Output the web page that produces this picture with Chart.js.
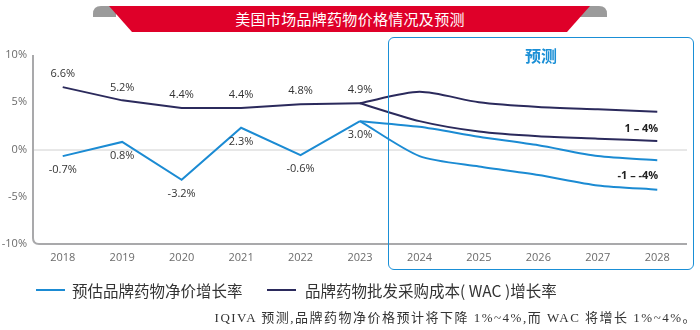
<!DOCTYPE html>
<html><head><meta charset="utf-8">
<script src="https://cdn.jsdelivr.net/npm/chart.js@4/dist/chart.umd.min.js"></script>
<style>
html,body{margin:0;padding:0;background:#fff;}
#wrap{position:relative;width:700px;height:330px;overflow:hidden;font-family:"Noto Sans CJK SC","Noto Sans",sans-serif;}
#c{position:absolute;left:0;top:0;}
.abs{position:absolute;white-space:nowrap;}
#title{left:0;width:700px;top:8px;text-align:center;color:#fff;font-size:15px;line-height:21px;letter-spacing:0.3px;}
#box{left:388px;top:37px;width:306px;height:233px;border:1.5px solid #1a8fd6;border-radius:6px;box-sizing:border-box;}
#fc{left:388px;width:306px;top:43px;text-align:center;color:#1a8fd6;font-size:16px;font-weight:bold;line-height:24px;}
.leg{top:280px;font-size:15.5px;color:#333;line-height:20px;}
.sw{position:absolute;height:2px;top:289px;}
#foot{right:3px;top:309px;font-family:"Liberation Serif","Noto Sans CJK SC",serif;font-size:13px;color:#333;letter-spacing:1.5px;line-height:18px;}
</style></head>
<body><div id="wrap">
<svg class="abs" style="left:0;top:0" width="700" height="40">
<path d="M101,6 L116,6 L116,17 L93,17 L93,14 Q93,6 101,6 Z" fill="#9b9b9b"/>
<path d="M599,6 L580,6 L580,17 L607,17 L607,14 Q607,6 599,6 Z" fill="#9b9b9b"/>
<polygon points="109,6 590,6 567,32 132,32" fill="#df0029"/>
</svg>
<div id="title" class="abs">美国市场品牌药物价格情况及预测</div>
<canvas id="c" width="700" height="330"></canvas>
<div id="box" class="abs"></div>
<div id="fc" class="abs">预测</div>
<div class="sw" style="left:36px;width:29px;background:#1b8bd3"></div>
<div class="abs leg" style="left:72px">预估品牌药物净价增长率</div>
<div class="sw" style="left:267px;width:29px;background:#2b2a5c"></div>
<div class="abs leg" style="left:305px">品牌药物批发采购成本( WAC )增长率</div>
<div id="foot" class="abs">IQIVA 预测,品牌药物净价格预计将下降 1%~4%,而 WAC 将增长 1%~4%。</div>
</div>
<script>
const years = ["2018","2019","2020","2021","2022","2023","2024","2025","2026","2027","2028"];
const yTicks = [-10,-5,0,5,10];
const wacHist   = [6.6,5.2,4.4,4.4,4.8,4.9,null,null,null,null,null];
const wacHigh   = [null,null,null,null,null,4.9,6.1,5.0,4.5,4.25,4.0];
const wacLow    = [null,null,null,null,null,4.9,3.0,1.9,1.4,1.15,0.9];
const netHist   = [-0.7,0.8,-3.2,2.3,-0.6,3.0,null,null,null,null,null];
const netHigh   = [null,null,null,null,null,3.0,2.4,1.35,0.45,-0.7,-1.15];
const netLow    = [null,null,null,null,null,3.0,-0.7,-1.8,-2.7,-3.8,-4.25];
const rangeLabels = [{text:"1 – 4%", value:2.2},{text:"-1 – -4%", value:-2.8}];

const NAVY="#2b2a5c", BLUE="#1b8bd3";
function ds(data,color,tension){return {data,borderColor:color,backgroundColor:color,borderWidth:2,pointRadius:0,tension:tension,spanGaps:false,fill:false};}

const axisPlugin={id:'axisPlugin',
 beforeDatasetsDraw(chart){
  const {ctx,chartArea:a}=chart; const y0=chart.scales.y.getPixelForValue(0);
  ctx.save();
  ctx.strokeStyle="#d0d0d0";ctx.lineWidth=1;
  ctx.beginPath();ctx.moveTo(a.left,y0+0.5);ctx.lineTo(a.right,y0+0.5);ctx.stroke();
  ctx.strokeStyle="#a9a9ab";ctx.lineWidth=2;
  const r=6;
  ctx.beginPath();ctx.moveTo(a.left,a.top);ctx.lineTo(a.left,a.bottom-r);
  ctx.quadraticCurveTo(a.left,a.bottom,a.left+r,a.bottom);ctx.lineTo(a.right,a.bottom);ctx.stroke();
  ctx.restore();
 },
 afterDatasetsDraw(chart){
  const {ctx}=chart; const xs=chart.scales.x, ys=chart.scales.y;
  ctx.save();
  ctx.font="11px 'Open Sans'";ctx.fillStyle="#333";ctx.textAlign="center";ctx.textBaseline="middle";
  wacHist.forEach((v,i)=>{ if(v==null)return; ctx.fillText(v.toFixed(1)+"%",xs.getPixelForValue(i),ys.getPixelForValue(v)-13);});
  netHist.forEach((v,i)=>{ if(v==null)return; ctx.fillText(v.toFixed(1)+"%",xs.getPixelForValue(i),ys.getPixelForValue(v)+14);});
  ctx.font="bold 11px 'Open Sans'";ctx.fillStyle="#222";ctx.textAlign="right";
  const xr=xs.getPixelForValue(years.length-1)+1;
  rangeLabels.forEach(l=>ctx.fillText(l.text,xr,ys.getPixelForValue(l.value)));
  ctx.restore();
 }};

new Chart(document.getElementById('c'),{
 type:'line',
 data:{labels:years,datasets:[
  ds(wacHist,NAVY,0),ds(wacHigh,NAVY,0.25),ds(wacLow,NAVY,0.25),
  ds(netHist,BLUE,0),ds(netHigh,BLUE,0.25),ds(netLow,BLUE,0.25)]},
 options:{responsive:false,animation:false,
  layout:{padding:{top:55,right:13,left:0,bottom:0}},
  plugins:{legend:{display:false},title:{display:false},tooltip:{enabled:false}},
  scales:{
   x:{offset:true,grid:{display:false,drawTicks:false},border:{display:false},
      ticks:{color:"#6b6b6b",font:{family:"Open Sans",size:11},padding:7,maxRotation:0},
      afterFit(s){s.height=86;}},
   y:{min:-10,max:10,grid:{display:false,drawTicks:false},border:{display:false},
      afterBuildTicks(s){s.ticks=yTicks.map(v=>({value:v}));},
      ticks:{color:"#6b6b6b",font:{family:"Open Sans",size:11},padding:6,callback:v=>v+"%"},
      afterFit(s){s.width=33;}}
  }},
 plugins:[axisPlugin]
});
</script>
</body></html>
